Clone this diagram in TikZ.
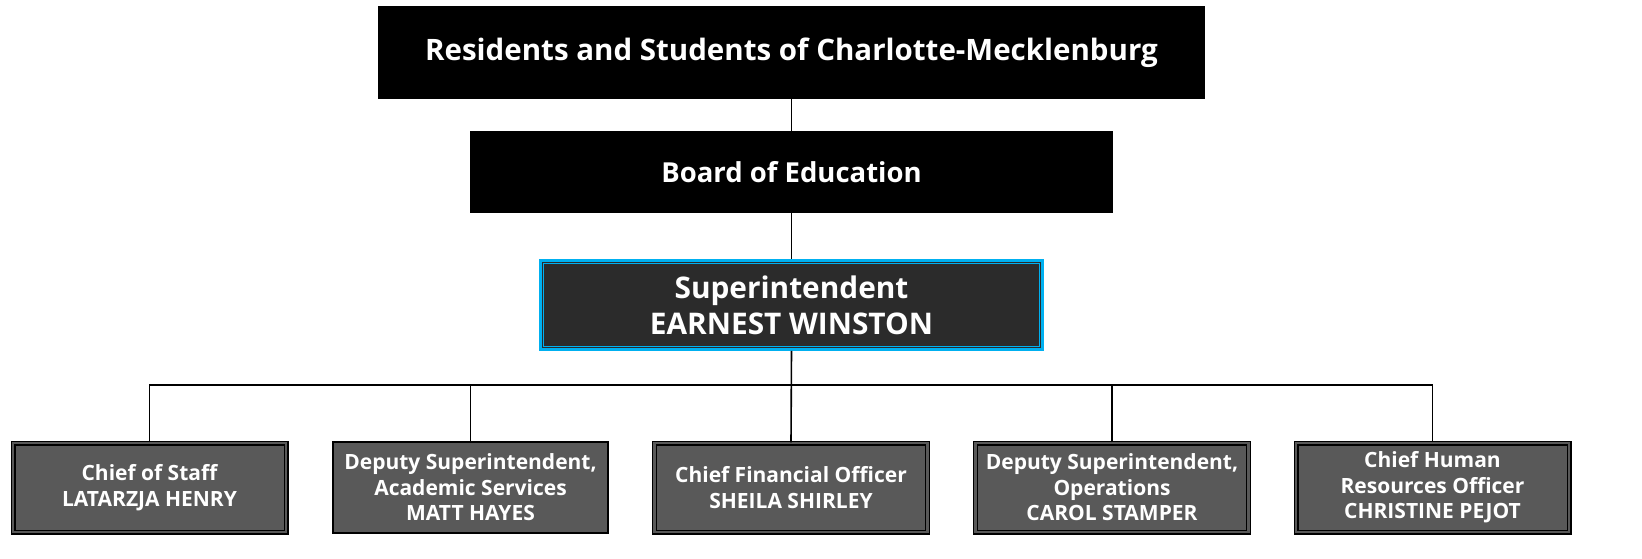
\documentclass[tikz,border=0pt]{standalone}
\usepackage{fontspec}
\setmainfont{Open Sans}
\begin{document}
\begin{tikzpicture}[x=1pt,y=-1pt,
  topbox/.style={draw=none,fill=black,text=white,inner sep=0pt},
  supbox/.style={draw=supcyan,line width=2.6pt,fill=supfill,text=white,align=center,font=\bfseries\fontsize{29.8}{36}\selectfont,inner sep=0pt},
  chbox/.style={draw=black,double=chfill,double distance=2.2pt,line width=1.4pt,fill=chfill,text=white,align=center,font=\bfseries\fontsize{21}{25.5}\selectfont,inner sep=0pt,minimum width=273pt,minimum height=89pt},
  conn/.style={draw=black,line width=1.6pt}]
\definecolor{supfill}{HTML}{2B2B2B}
\definecolor{supcyan}{HTML}{00B0F0}
\definecolor{chfill}{HTML}{595959}
\useasboundingbox (0,0) rectangle (1642,559);
\node[topbox,minimum width=827pt,minimum height=93pt,font=\bfseries\fontsize{29.5}{34}\selectfont] (top) at (791.5,52.5) {Residents and Students of Charlotte-Mecklenburg};
\node[topbox,minimum width=643pt,minimum height=82pt,font=\bfseries\fontsize{27.5}{32}\selectfont] (board) at (791.5,172) {Board of Education};
\node[supbox,minimum width=502pt,minimum height=89pt] (sup) at (791.5,305) {Superintendent\\EARNEST WINSTON};
\draw[supcyan,line width=1.2pt] ([shift={(4,4)}]sup.north west) rectangle ([shift={(-4,-4)}]sup.south east);
\node[chbox] (c1) at (149.5,487.5) {Chief of Staff\\LATARZJA HENRY};
\node[chbox,double=none,line width=1.8pt,minimum width=275pt,minimum height=91pt] (c2) at (470.5,487.5) {Deputy Superintendent,\\Academic Services\\MATT HAYES};
\node[chbox] (c3) at (791,487.5) {Chief Financial Officer\\SHEILA SHIRLEY};
\node[chbox] (c4) at (1112,487.5) {Deputy Superintendent,\\Operations\\CAROL STAMPER};
\node[chbox] (c5) at (1432.5,487.5) {Chief Human\\Resources Officer\\CHRISTINE PEJOT};
\coordinate (bus) at (791.5,385);
\draw[conn] (top.south) -- (board.north);
\draw[conn] (board.south) -- (sup.north);
\draw[conn] (sup.south) -- (c3.north);
\draw[conn] (c1.north) |- (bus) -| (c5.north);
\draw[conn] (c2.north) -- (c2.north |- bus);
\draw[conn] (c4.north) -- (c4.north |- bus);
\end{tikzpicture}
\end{document}
